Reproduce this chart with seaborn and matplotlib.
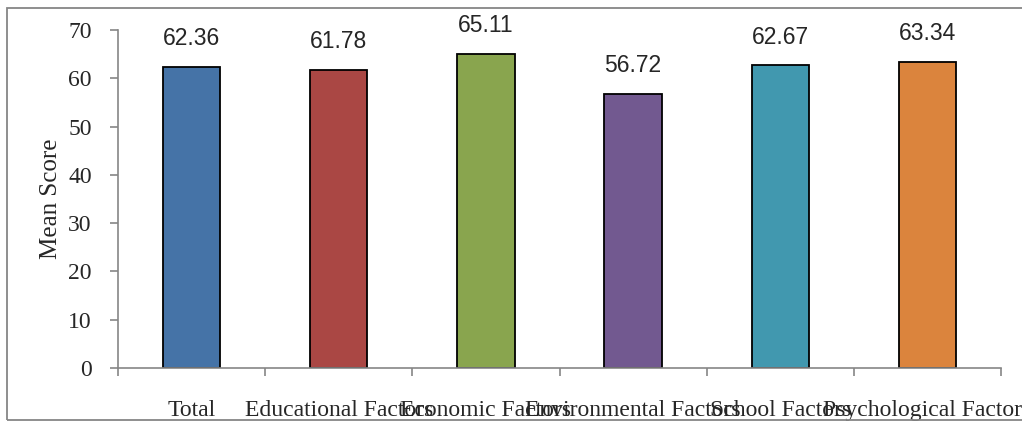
import seaborn as sns
import matplotlib.pyplot as plt
import pandas as pd
from matplotlib.patches import Rectangle

categories = ['Total', 'Educational Factors', 'Economic Factors',
              'Environmental Factors', 'School Factors', 'Psychological Factors']
scores = [62.36, 61.78, 65.11, 56.72, 62.67, 63.34]
colors = ['#4573A7', '#AA4744', '#89A54E', '#725990', '#4198AF', '#DB843D']
y_ticks = [0, 10, 20, 30, 40, 50, 60, 70]

df = pd.DataFrame({'category': categories, 'score': scores})

sns.set_style('white')
plt.rcParams['font.family'] = ['Liberation Serif', 'DejaVu Serif']

fig = plt.figure(figsize=(10.22, 4.22), dpi=100)
ax = fig.add_axes([0.1155, 0.128, 0.864, 0.801])

sns.barplot(data=df, x='category', y='score', hue='category', palette=colors,
            legend=False, width=0.39, edgecolor='black', linewidth=1.3,
            saturation=1, ax=ax)

# value labels above bars
for p, v in zip(ax.patches, scores):
    ax.annotate(f'{v:.2f}', (p.get_x() + p.get_width() / 2, v),
                xytext=(0, 12), textcoords='offset points',
                ha='center', va='bottom', fontsize=16.5,
                family=['Liberation Sans', 'DejaVu Sans'])

ax.set_ylim(0, 70)
ax.set_xlim(-0.5, len(categories) - 0.5)
ax.set_yticks(y_ticks)
ax.set_yticklabels([str(t) for t in y_ticks], fontsize=17)

# tick marks on category boundaries, labels at centres
ax.set_xticks([i - 0.5 for i in range(len(categories) + 1)])
ax.set_xticklabels([])
ax.set_xticks(range(len(categories)), minor=True)
ax.set_xticklabels(categories, minor=True, fontsize=17)
ax.tick_params(axis='x', which='minor', length=0, pad=23)
ax.tick_params(axis='x', which='major', length=6, width=1.2, color='#868686', direction='out', bottom=True)
ax.tick_params(axis='y', length=6, width=1.2, color='#868686', direction='out', left=True, pad=13)

ax.set_xlabel('')
ax.set_ylabel('Mean Score', fontsize=18, labelpad=4)

for s in ['top', 'right']:
    ax.spines[s].set_visible(False)
for s in ['left', 'bottom']:
    ax.spines[s].set_color('#868686')
    ax.spines[s].set_linewidth(1.2)

# chart area border
fig.patches.append(Rectangle((7 / 1022, 2 / 422), 1.1, 412 / 422, transform=fig.transFigure,
                             fill=False, edgecolor='#868686', linewidth=1.3))

fig.savefig('out.png', dpi=100)
